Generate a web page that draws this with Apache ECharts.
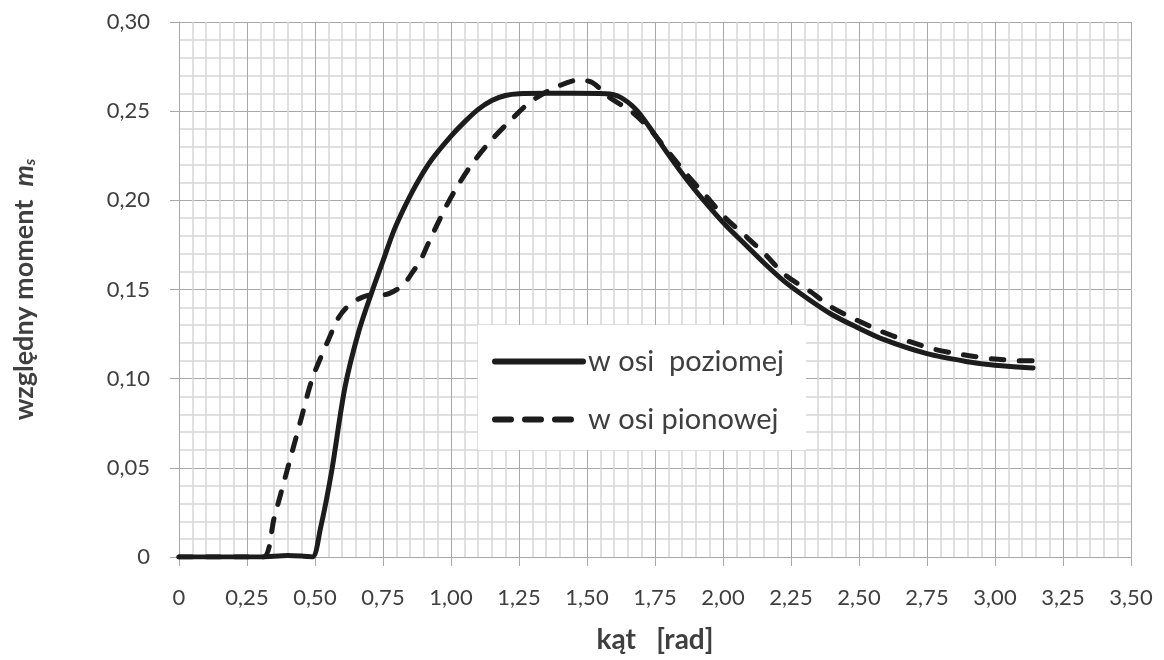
<!DOCTYPE html>
<html>
<head>
<meta charset="utf-8">
<script src="https://cdn.jsdelivr.net/npm/echarts@6/dist/echarts.min.js"></script>
<style>
  html, body { margin: 0; padding: 0; background: #ffffff; }
  #chart { width: 1164px; height: 660px; }
</style>
</head>
<body>
<div id="chart"></div>
<script>
// Angle [rad] and relative torque m_s, horizontal axis case (solid line)
const katPoziomej = [0, 0.10, 0.20, 0.30, 0.40, 0.45, 0.49, 0.52, 0.56, 0.61, 0.66, 0.71, 0.75, 0.79, 0.835, 0.88, 0.93, 1.00, 1.05, 1.10, 1.15, 1.20, 1.25, 1.35, 1.45, 1.57, 1.62, 1.68, 1.73, 1.80, 1.87, 1.94, 2.01, 2.09, 2.15, 2.23, 2.32, 2.40, 2.49, 2.59, 2.75, 2.90, 3.00, 3.14];
const msPoziomej = [0, 0, 0, 0, 0.0008, 0.0005, 0, 0.016, 0.047, 0.095, 0.126, 0.149, 0.166, 0.183, 0.198, 0.211, 0.223, 0.236, 0.244, 0.251, 0.256, 0.2588, 0.2598, 0.26, 0.26, 0.2598, 0.258, 0.251, 0.241, 0.2255, 0.211, 0.198, 0.186, 0.174, 0.165, 0.154, 0.144, 0.136, 0.129, 0.122, 0.114, 0.1095, 0.1075, 0.106];

// Vertical axis case (dashed line)
const katPionowej = [0, 0.10, 0.20, 0.31, 0.35, 0.40, 0.45, 0.49, 0.55, 0.59, 0.64, 0.71, 0.75, 0.82, 0.86, 0.89, 0.92, 0.98, 1.02, 1.08, 1.15, 1.22, 1.29, 1.38, 1.47, 1.52, 1.58, 1.665, 1.73, 1.80, 1.87, 1.94, 2.01, 2.09, 2.15, 2.23, 2.32, 2.40, 2.49, 2.59, 2.69, 2.79, 2.90, 3.00, 3.10, 3.14];
const msPionowej = [0, 0, 0, 0, 0.022, 0.05, 0.078, 0.10, 0.122, 0.135, 0.143, 0.147, 0.147, 0.152, 0.160, 0.167, 0.177, 0.196, 0.207, 0.221, 0.234, 0.245, 0.255, 0.263, 0.2675, 0.266, 0.258, 0.2496, 0.240, 0.227, 0.214, 0.202, 0.190, 0.179, 0.1705, 0.158, 0.149, 0.140, 0.133, 0.126, 0.1206, 0.116, 0.113, 0.111, 0.110, 0.110];

const seriesNames = ['w osi  poziomej', 'w osi pionowej'];

// Tick labels (decimal comma)
const xTickLabels = ['0', '0,25', '0,50', '0,75', '1,00', '1,25', '1,50', '1,75', '2,00', '2,25', '2,50', '2,75', '3,00', '3,25', '3,50'];
const yTickLabels = ['0', '0,05', '0,10', '0,15', '0,20', '0,25', '0,30'];

const X_STEP = 0.25, Y_STEP = 0.05;
const FONT = 'Lato, "Open Sans", sans-serif';
const TEXT = '#3f3f3f';
const INK = '#1c1c1c';
const MAJOR = '#a8a8a8';
const MINOR = '#d6d6d6';
const DASH = [13, 15];

const zip = (xs, ys) => xs.map((x, i) => [x, ys[i]]);
const hiddenSymbol = { color: 'rgba(0,0,0,0)', borderWidth: 0, opacity: 0 };

const chart = echarts.init(document.getElementById('chart'), null, { renderer: 'canvas' });

chart.setOption({
  backgroundColor: '#ffffff',
  animation: false,
  grid: { left: 179, right: 33, top: 22, bottom: 103, containLabel: false, outerBoundsMode: 'none' },
  xAxis: {
    type: 'value',
    min: 0, max: 3.5, interval: X_STEP,
    name: 'kąt   [rad]',
    nameLocation: 'middle',
    nameGap: 69,
    nameTextStyle: { fontFamily: FONT, fontSize: 28, fontWeight: 'bold', color: TEXT },
    axisLine: { show: true, lineStyle: { color: MAJOR, width: 1 } },
    axisTick: { show: true, length: 9, lineStyle: { color: MAJOR } },
    axisLabel: {
      margin: 30, fontFamily: FONT, fontSize: 22, color: TEXT,
      formatter: v => xTickLabels[Math.round(v / X_STEP)]
    },
    splitLine: { show: true, lineStyle: { color: MAJOR, width: 1 } },
    minorTick: { show: false, splitNumber: 5 },
    minorSplitLine: { show: true, lineStyle: { color: MINOR, width: 1.5 } }
  },
  yAxis: {
    type: 'value',
    min: 0, max: 0.3, interval: Y_STEP,
    name: 'względny moment  {m|m}{s|s}',
    nameLocation: 'middle',
    nameGap: 141,
    nameTextStyle: {
      fontFamily: FONT, fontSize: 27, fontWeight: 'bold', color: TEXT,
      rich: {
        m: { fontFamily: FONT, fontSize: 27, fontWeight: 'bold', fontStyle: 'italic', color: TEXT },
        s: { fontFamily: FONT, fontSize: 16, fontWeight: 'bold', fontStyle: 'italic', color: TEXT, verticalAlign: 'bottom', padding: [12, 0, 0, 0] }
      }
    },
    axisLine: { show: true, lineStyle: { color: MAJOR, width: 1 } },
    axisTick: { show: true, length: 9, lineStyle: { color: MAJOR } },
    axisLabel: {
      margin: 29, fontFamily: FONT, fontSize: 22, color: TEXT,
      formatter: v => yTickLabels[Math.round(v / Y_STEP)]
    },
    splitLine: { show: true, lineStyle: { color: MAJOR, width: 1 } },
    minorTick: { show: false, splitNumber: 5 },
    minorSplitLine: { show: true, lineStyle: { color: MINOR, width: 1.5 } }
  },
  legend: {
    orient: 'vertical',
    left: 478, top: 325,
    backgroundColor: '#ffffff',
    padding: [22, 22, 16, 14],
    itemWidth: 88,
    itemHeight: 14,
    itemGap: 29,
    textStyle: { fontFamily: FONT, fontSize: 29, color: TEXT },
    lineStyle: { width: 6, cap: 'round' },
    itemStyle: hiddenSymbol,
    data: [
      { name: seriesNames[0], lineStyle: { width: 6, type: 'solid', cap: 'round', color: INK }, itemStyle: hiddenSymbol },
      { name: seriesNames[1], lineStyle: { width: 6, type: [16, 14], cap: 'round', color: INK }, itemStyle: hiddenSymbol }
    ]
  },
  series: [
    {
      name: seriesNames[0],
      type: 'line',
      data: zip(katPoziomej, msPoziomej),
      showSymbol: false, symbol: 'none',
      smooth: 0.3,
      lineStyle: { color: INK, width: 5, cap: 'round', join: 'round' },
      itemStyle: { color: INK },
      z: 3
    },
    {
      name: seriesNames[1],
      type: 'line',
      data: zip(katPionowej, msPionowej),
      showSymbol: false, symbol: 'none',
      smooth: 0.3,
      lineStyle: { color: INK, width: 5, type: DASH, cap: 'round', join: 'round' },
      itemStyle: { color: INK },
      z: 2
    }
  ]
});
</script>
</body>
</html>
